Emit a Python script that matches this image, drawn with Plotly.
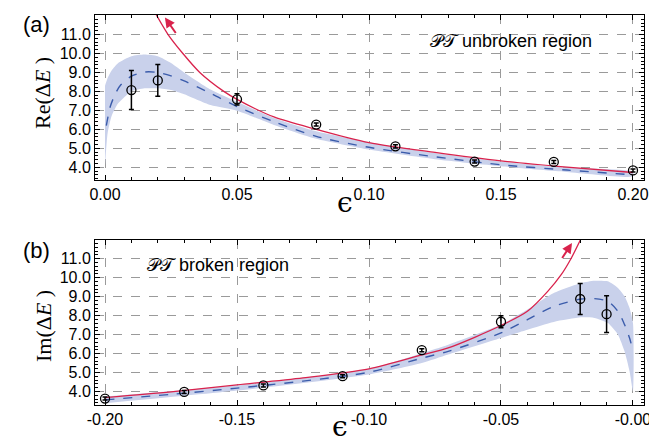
import plotly.graph_objects as go

# ---------------- data ----------------
# Panel (a): PT unbroken region, Re(dE)
a_pts_eps = [0.01, 0.02, 0.05, 0.08, 0.11, 0.14, 0.17, 0.20]
a_pts_val = [8.07, 8.58, 7.58, 6.25, 5.10, 4.30, 4.28, 3.83]
a_pts_err = [1.03, 0.84, 0.30, 0.08, 0.08, 0.08, 0.08, 0.08]

a_red_eps = [0.0194, 0.0239, 0.0295, 0.0359, 0.045, 0.05, 0.064, 0.08, 0.10, 0.125, 0.15, 0.175, 0.20]
a_red_val = [12.05, 11.0, 10.0, 9.0, 8.0, 7.58, 6.65, 6.0, 5.3, 4.78, 4.33, 4.0, 3.72]

a_blue_eps = [0.0005, 0.002, 0.004, 0.006, 0.01, 0.015, 0.02, 0.025, 0.03, 0.04, 0.05, 0.064, 0.08, 0.10, 0.125, 0.15, 0.175, 0.20]
a_blue_val = [6.2, 7.2, 7.9, 8.35, 8.8, 9.02, 9.0, 8.82, 8.55, 7.9, 7.2, 6.4, 5.63, 5.05, 4.55, 4.13, 3.85, 3.6]

a_band_eps = [0.0, 0.001, 0.0025, 0.005, 0.01, 0.015, 0.02, 0.025, 0.03, 0.04, 0.05, 0.064, 0.08, 0.10, 0.125, 0.15, 0.175, 0.20]
a_band_hi = [8.3, 8.7, 9.1, 9.5, 9.86, 9.95, 9.86, 9.5, 9.0, 8.1, 7.45, 6.6, 5.9, 5.32, 4.75, 4.3, 3.98, 3.75]
a_band_lo = [4.1, 5.8, 6.7, 7.37, 8.0, 8.16, 8.16, 8.07, 7.85, 7.28, 6.98, 6.23, 5.5, 4.93, 4.42, 4.05, 3.75, 3.52]

# Panel (b): PT broken region, Im(dE)
b_pts_eps = [-0.20, -0.17, -0.14, -0.11, -0.08, -0.05, -0.02, -0.01]
b_pts_val = [3.63, 3.98, 4.32, 4.81, 6.18, 7.68, 8.88, 8.08]
b_pts_err = [0.08, 0.08, 0.08, 0.08, 0.08, 0.32, 0.82, 0.97]

b_red_eps = [-0.20, -0.175, -0.15, -0.125, -0.10, -0.08, -0.07, -0.05, -0.04, -0.0323, -0.0272, -0.0234, -0.0196]
b_red_val = [3.68, 3.98, 4.35, 4.72, 5.2, 5.93, 6.3, 7.48, 8.23, 9.28, 10.16, 11.03, 12.09]

b_blue_eps = [-0.20, -0.175, -0.15, -0.125, -0.10, -0.08, -0.07, -0.05, -0.04, -0.03, -0.0196, -0.0146, -0.0095, -0.0057, -0.0032, -0.0013, -0.0003]
b_blue_val = [3.56, 3.85, 4.18, 4.55, 5.02, 5.76, 6.12, 7.09, 7.79, 8.49, 8.88, 8.9, 8.75, 8.23, 7.53, 6.82, 6.3]

b_band_eps = [-0.20, -0.15, -0.10, -0.08, -0.07, -0.05, -0.04, -0.03, -0.0196, -0.0146, -0.0095, -0.0057, -0.0032, -0.0013, 0.0]
b_band_hi = [3.74, 4.33, 5.2, 6.02, 6.47, 7.53, 8.32, 9.19, 9.72, 9.84, 9.81, 9.46, 9.02, 8.4, 7.6]
b_band_lo = [3.38, 4.05, 4.9, 5.5, 5.95, 6.82, 7.26, 7.67, 7.91, 7.88, 7.61, 7.0, 6.12, 5.07, 4.02]

# tick labels
y_tickvals = [4, 5, 6, 7, 8, 9, 10, 11]
y_ticktext = ["4.0", "5.0", "6.0", "7.0", "8.0", "9.0", "10.0", "11.0"]
a_x_tickvals = [0.0, 0.05, 0.10, 0.15, 0.20]
a_x_ticktext = ["0.00", "0.05", "0.10", "0.15", "0.20"]
b_x_tickvals = [-0.20, -0.15, -0.10, -0.05, 0.0]
b_x_ticktext = ["-0.20", "-0.15", "-0.10", "-0.05", "-0.00"]

# ---------------- styles ----------------
RED = "#d9224c"
BLUE = "#3b5cab"
BAND = "#c9d1eb"
GRID = "#9a9a9a"

fig = go.Figure()


def add_panel(xa, ya, beps, bhi, blo, leps, lval, reps, rval, peps, pval, perr):
    fig.add_trace(go.Scatter(
        x=list(beps) + list(beps)[::-1], y=list(bhi) + list(blo)[::-1],
        fill="toself", fillcolor=BAND, line=dict(width=0, shape="spline", smoothing=0.6),
        mode="lines", hoverinfo="skip", xaxis=xa, yaxis=ya))
    fig.add_trace(go.Scatter(
        x=leps, y=lval, mode="lines",
        line=dict(color=BLUE, width=1.4, dash="dash", shape="spline", smoothing=0.8),
        xaxis=xa, yaxis=ya))
    fig.add_trace(go.Scatter(
        x=reps, y=rval, mode="lines",
        line=dict(color=RED, width=1.3, shape="spline", smoothing=0.8),
        xaxis=xa, yaxis=ya))
    fig.add_trace(go.Scatter(
        x=peps, y=pval, mode="markers",
        marker=dict(symbol="circle-open", size=9, color="black", line=dict(width=1.3, color="black")),
        error_y=dict(type="data", array=perr, visible=True, color="black", thickness=1.5, width=2.5),
        xaxis=xa, yaxis=ya))


add_panel("x", "y", a_band_eps, a_band_hi, a_band_lo, a_blue_eps, a_blue_val,
          a_red_eps, a_red_val, a_pts_eps, a_pts_val, a_pts_err)
add_panel("x2", "y2", b_band_eps, b_band_hi, b_band_lo, b_blue_eps, b_blue_val,
          b_red_eps, b_red_val, b_pts_eps, b_pts_val, b_pts_err)

TICKFONT = dict(family="Liberation Sans, Arial, sans-serif", size=16, color="black")


def xaxis(domain_anchor, rng, tv, tt):
    return dict(anchor=domain_anchor, domain=[0, 1], range=rng,
                tickvals=tv, ticktext=tt, tickfont=TICKFONT,
                showline=True, linecolor="black", linewidth=1, mirror="ticks",
                ticks="inside", ticklen=5, tickcolor="black",
                minor=dict(ticks="inside", ticklen=3, dtick=0.01, tick0=0, tickcolor="black", showgrid=False),
                showgrid=True, gridcolor=GRID, griddash="dash", gridwidth=1,
                zeroline=False)


def yaxis(anchor, dom, rng):
    return dict(anchor=anchor, domain=dom, range=rng,
                tickvals=y_tickvals, ticktext=y_ticktext, tickfont=TICKFONT,
                showline=True, linecolor="black", linewidth=1, mirror="ticks",
                ticks="inside", ticklen=5, tickcolor="black",
                minor=dict(ticks="inside", ticklen=3, dtick=0.2, tick0=0, tickcolor="black", showgrid=False),
                showgrid=True, gridcolor=GRID, griddash="dash", gridwidth=1,
                zeroline=False)


fig.update_layout(
    width=657, height=448,
    margin=dict(l=87, r=21, t=7, b=51),
    paper_bgcolor="white", plot_bgcolor="white",
    showlegend=False,
    xaxis=xaxis("y", [-0.00379, 0.20417], a_x_tickvals, a_x_ticktext),
    yaxis=yaxis("x", [0.5769, 1.0], [3.325, 12.03]),
    xaxis2=xaxis("y2", [-0.20379, 0.00417], b_x_tickvals, b_x_ticktext),
    yaxis2=yaxis("x2", [0.0, 0.4231], [3.29, 11.99]),
)

SERIF = "Liberation Serif, Times New Roman, serif"
EPSFONT = "DejaVu Serif, Liberation Serif, serif"
SANS = "Liberation Sans, Arial, sans-serif"


def px_x(p):
    return (p - 87) / 549.0


def px_y(p):
    return 1 - (p - 7) / 390.0


annos = [
    # panel labels
    dict(text="(a)", x=px_x(28), y=px_y(16), font=dict(family=SANS, size=22, color="black")),
    dict(text="(b)", x=px_x(28), y=px_y(243), font=dict(family=SANS, size=22, color="black")),
    # y titles
    dict(text="Re(Δ<i>E</i> )", x=px_x(35), y=px_y(85), textangle=-90,
         font=dict(family=SERIF, size=22, color="black")),
    dict(text="Im(Δ<i>E</i> )", x=px_x(35), y=px_y(318), textangle=-90,
         font=dict(family=SERIF, size=22, color="black")),
    # x titles
    dict(text="ϵ", x=px_x(337), y=px_y(194), font=dict(family=EPSFONT, size=28, color="black")),
    dict(text="ϵ", x=px_x(332), y=px_y(418), font=dict(family=EPSFONT, size=28, color="black")),
    # region labels
    dict(text="𝒫𝒯 unbroken region", x=px_x(503), y=px_y(33), font=dict(family=SANS, size=18, color="black")),
    dict(text="𝒫𝒯 broken region", x=px_x(210), y=px_y(257), font=dict(family=SANS, size=18, color="black")),
]
for a in annos:
    a.update(xref="paper", yref="paper", showarrow=False, xanchor="center", yanchor="middle")
    fig.add_annotation(**a)

# red arrows indicating divergence
fig.add_annotation(x=0.0227, y=11.9, ax=0.0272, ay=11.0, xref="x", yref="y", axref="x", ayref="y",
                   text="", showarrow=True, arrowhead=2, arrowsize=1, arrowwidth=2, arrowcolor=RED)
fig.add_annotation(x=-0.0231, y=11.83, ax=-0.0272, ay=10.96, xref="x2", yref="y2", axref="x2", ayref="y2",
                   text="", showarrow=True, arrowhead=2, arrowsize=1, arrowwidth=2, arrowcolor=RED)

fig.write_html("out.html")
